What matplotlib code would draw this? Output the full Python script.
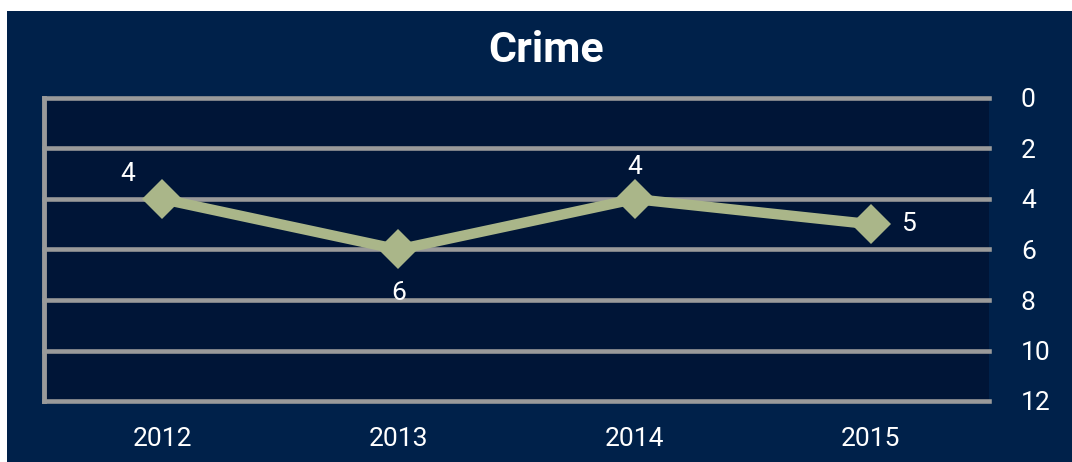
import matplotlib.pyplot as plt
from matplotlib.patches import Rectangle

# data
years = ["2012", "2013", "2014", "2015"]
crime = [4, 6, 4, 5]
y_ticks = [0, 2, 4, 6, 8, 10, 12]
# label offsets (points) for each data label
label_offsets = [(-25, 18), (0, -31), (0, 23), (27, 0)]

NAVY = "#00214a"
PLOT_BG = "#001537"
GRID = "#9a9a9a"
LINE = "#aab689"

plt.rcParams['font.family'] = ['Roboto', 'DejaVu Sans']

fig = plt.figure(figsize=(10.72, 4.62), dpi=100, facecolor="white")
# navy panel with thin white strip top/left
fig.add_artist(Rectangle((7 / 1072, 0), 1, 1 - 11 / 462, transform=fig.transFigure,
                         facecolor=NAVY, edgecolor="none", zorder=0))

ax = fig.add_axes([44 / 1072, 1 - 401 / 462, (989 - 44) / 1072, (401 - 98) / 462])
ax.set_facecolor(PLOT_BG)

x = list(range(len(years)))
ax.plot(x, crime, color=LINE, linewidth=7.5, marker="D", markersize=20,
        markeredgewidth=0, zorder=3, clip_on=False)

for i, v in enumerate(crime):
    dx, dy = label_offsets[i]
    ax.annotate(str(v), (x[i], v), xytext=(dx, dy), textcoords="offset points",
                ha="center", va="center", color="white", fontsize=19)

ax.set_xlim(-0.5, len(years) - 0.5)
ax.set_ylim(12, 0)
ax.set_xticks(x)
ax.set_xticklabels(years)
ax.set_yticks(y_ticks)
ax.yaxis.tick_right()
ax.tick_params(axis="both", length=0, colors="white", labelsize=19)
ax.tick_params(axis="y", pad=23)
ax.tick_params(axis="x", pad=19)
for lab in ax.get_yticklabels():
    lab.set_horizontalalignment("left")

ax.grid(True, axis="y", color=GRID, linewidth=3.3)
ax.set_axisbelow(True)
for gl in ax.get_ygridlines():
    gl.set_clip_on(False)

for side in ["top", "right", "bottom"]:
    ax.spines[side].set_visible(False)
ax.spines["left"].set_color(GRID)
ax.spines["left"].set_linewidth(3.5)

fig.text(546 / 1072, 1 - 62 / 462, "Crime", ha="center", va="baseline",
         color="white", fontsize=31, fontweight="bold", fontstretch="condensed",
         family=["Liberation Sans Narrow", "Roboto"])

fig.savefig("out.png", dpi=100, facecolor="white")
